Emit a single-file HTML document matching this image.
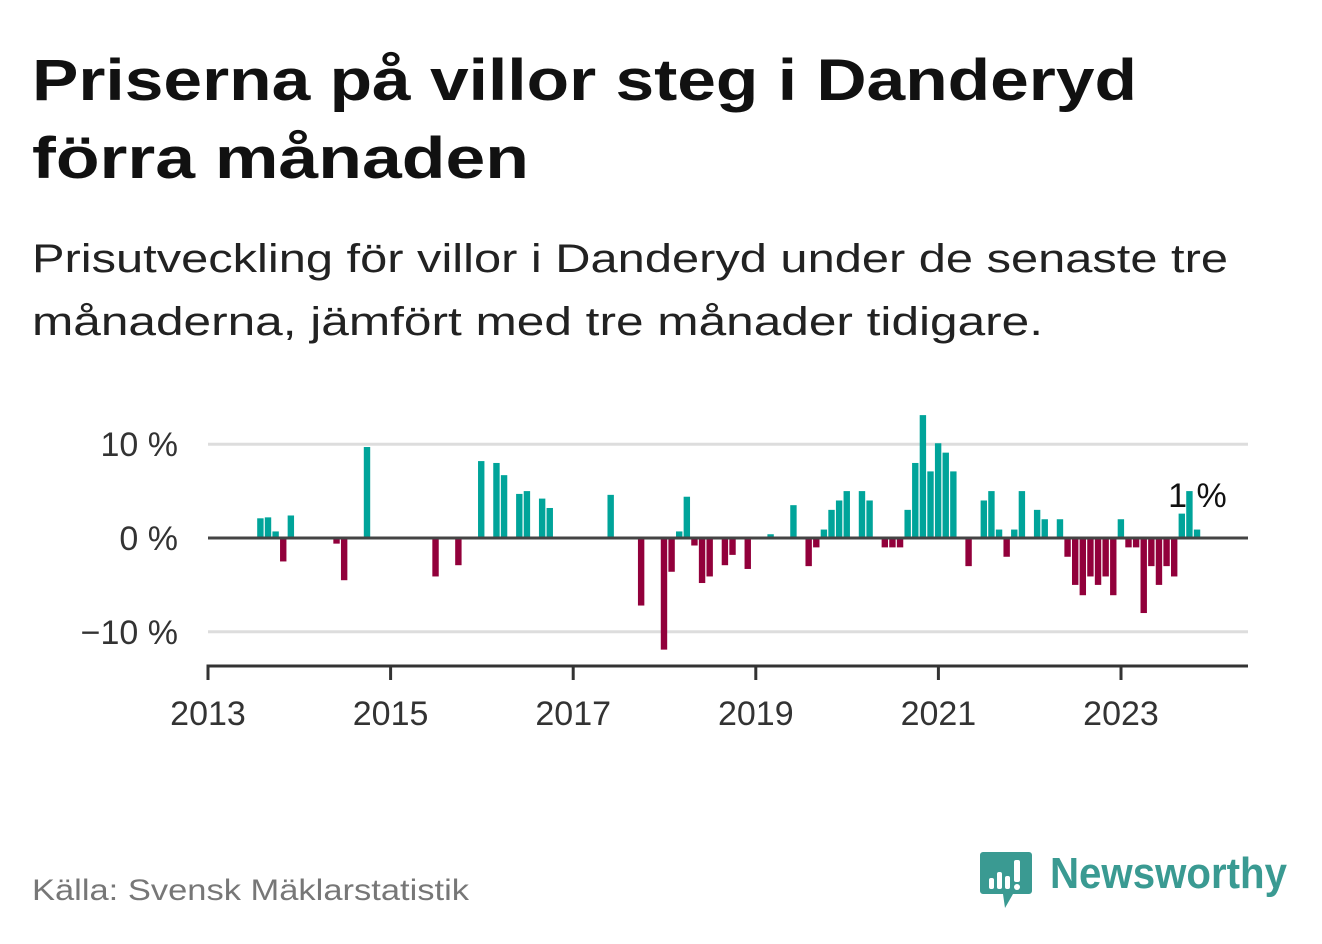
<!DOCTYPE html>
<html><head><meta charset="utf-8"><style>
body{margin:0;background:#fff;width:1322px;height:939px;overflow:hidden;font-family:"Liberation Sans","DejaVu Sans",sans-serif}
</style></head><body>
<svg width="1322" height="939" viewBox="0 0 1322 939" xmlns="http://www.w3.org/2000/svg">
<text x="32" y="100" font-size="58" font-weight="bold" fill="#111" textLength="1105" lengthAdjust="spacingAndGlyphs">Priserna på villor steg i Danderyd</text>
<text x="32" y="178" font-size="58" font-weight="bold" fill="#111" textLength="497" lengthAdjust="spacingAndGlyphs">förra månaden</text>
<text x="32" y="272" font-size="40" fill="#222" textLength="1196" lengthAdjust="spacingAndGlyphs">Prisutveckling för villor i Danderyd under de senaste tre</text>
<text x="32" y="335" font-size="40" fill="#222" textLength="1011" lengthAdjust="spacingAndGlyphs">månaderna, jämfört med tre månader tidigare.</text>
<g id="plot"></g>
<text x="32" y="900" font-size="30" fill="#777" textLength="437" lengthAdjust="spacingAndGlyphs">Källa: Svensk Mäklarstatistik</text>
<g>
<path d="M983 852 h46 a3 3 0 0 1 3 3 v36 a3 3 0 0 1 -3 3 h-16 l-8 14 l-2 -14 h-20 a3 3 0 0 1 -3 -3 v-36 a3 3 0 0 1 3 -3z" fill="#3a9a92"/>
<rect x="989" y="878" width="5" height="11" rx="2" fill="#fff"/>
<rect x="997" y="872" width="5" height="17" rx="2" fill="#fff"/>
<rect x="1005" y="876" width="5" height="13" rx="2" fill="#fff"/>
<rect x="1014" y="860" width="6" height="22" rx="2" fill="#fff"/>
<circle cx="1017" cy="887" r="3" fill="#fff"/>
<text x="1050" y="888" font-size="44" font-weight="bold" fill="#3a9a92" textLength="237" lengthAdjust="spacingAndGlyphs">Newsworthy</text>
</g>
</svg>
<script>
const months = [7,8,9,10,11,17,18,21,30,33,36,38,39,41,42,44,45,53,57,60,61,62,63,64,65,66,68,69,71,74,77,79,80,81,82,83,84,86,87,89,90,91,92,93,94,95,96,97,98,100,102,103,104,105,106,107,109,110,112,113,114,115,116,117,118,119,120,121,122,123,124,125,126,127,128,129,130];
const values = [2.1,2.2,0.7,-2.5,2.4,-0.6,-4.5,9.7,-4.1,-2.9,8.2,8.0,6.7,4.7,5.0,4.2,3.2,4.6,-7.2,-11.9,-3.6,0.7,4.4,-0.8,-4.8,-4.1,-2.9,-1.8,-3.3,0.4,3.5,-3.0,-1.0,0.9,3.0,4.0,5.0,5.0,4.0,-1.0,-1.0,-1.0,3.0,8.0,13.1,7.1,10.1,9.1,7.1,-3.0,4.0,5.0,0.9,-2.0,0.9,5.0,3.0,2.0,2.0,-2.0,-5.0,-6.1,-4.1,-5.0,-4.1,-6.1,2.0,-1.0,-1.0,-8.0,-3.0,-5.0,-3.0,-4.1,2.6,5.0,0.9];
const yTicks = [10,0,-10];
const yTickLabels = ["10 %","0 %","\u221210 %"];
const xTicks = [2013,2015,2017,2019,2021,2023];
const lastLabel = "1 %";

const NS="http://www.w3.org/2000/svg";
const g=document.getElementById('plot');
const X0=208,X1=1248;
const xYear=y=>208+(y-2013)*91.3;
const xMonth=m=>208+(m-0.12)*7.615;
const yV=v=>538-v*9.38;
function mk(t,a){const e=document.createElementNS(NS,t);for(const k in a)e.setAttribute(k,a[k]);g.appendChild(e);return e;}
yTicks.forEach((v,i)=>{
  if(v!==0){const l=mk('line',{x1:X0,x2:X1,y1:yV(v),y2:yV(v),stroke:'#ddd','stroke-width':3});
  
  }
  const t=mk('text',{x:178,y:yV(v)+12,'font-size':34,fill:'#333','text-anchor':'end'});
  t.textContent=yTickLabels[i];
  
  
});
months.forEach((m,i)=>{
  const v=values[i];const y=yV(Math.max(v,0));const h=Math.abs(yV(v)-yV(0));
  const r=mk('rect',{x:xMonth(m)-3.2,y:y,width:6.4,height:h,fill:v>=0?'#00a49a':'#92003b'});
  
  
});
const z=mk('line',{x1:X0,x2:X1,y1:yV(0),y2:yV(0),stroke:'#444','stroke-width':3});


const ax=mk('path',{d:`M${X0} 680 V666 H${X1}`,stroke:'#333','stroke-width':3,fill:'none'});


xTicks.forEach(yr=>{
  const tk=mk('line',{x1:xYear(yr),x2:xYear(yr),y1:666,y2:680,stroke:'#333','stroke-width':3});
  
  
  const t=mk('text',{x:xYear(yr),y:725,'font-size':34,fill:'#333','text-anchor':'middle'});
  t.textContent=yr;
  
  
});
const lm=months[months.length-2];
const lab=mk('text',{x:xMonth(lm)+8,y:507,'font-size':34,fill:'#111','text-anchor':'middle',stroke:'#fff','stroke-width':1,'paint-order':'stroke'});
lab.textContent=lastLabel;


</script>
</body></html>
